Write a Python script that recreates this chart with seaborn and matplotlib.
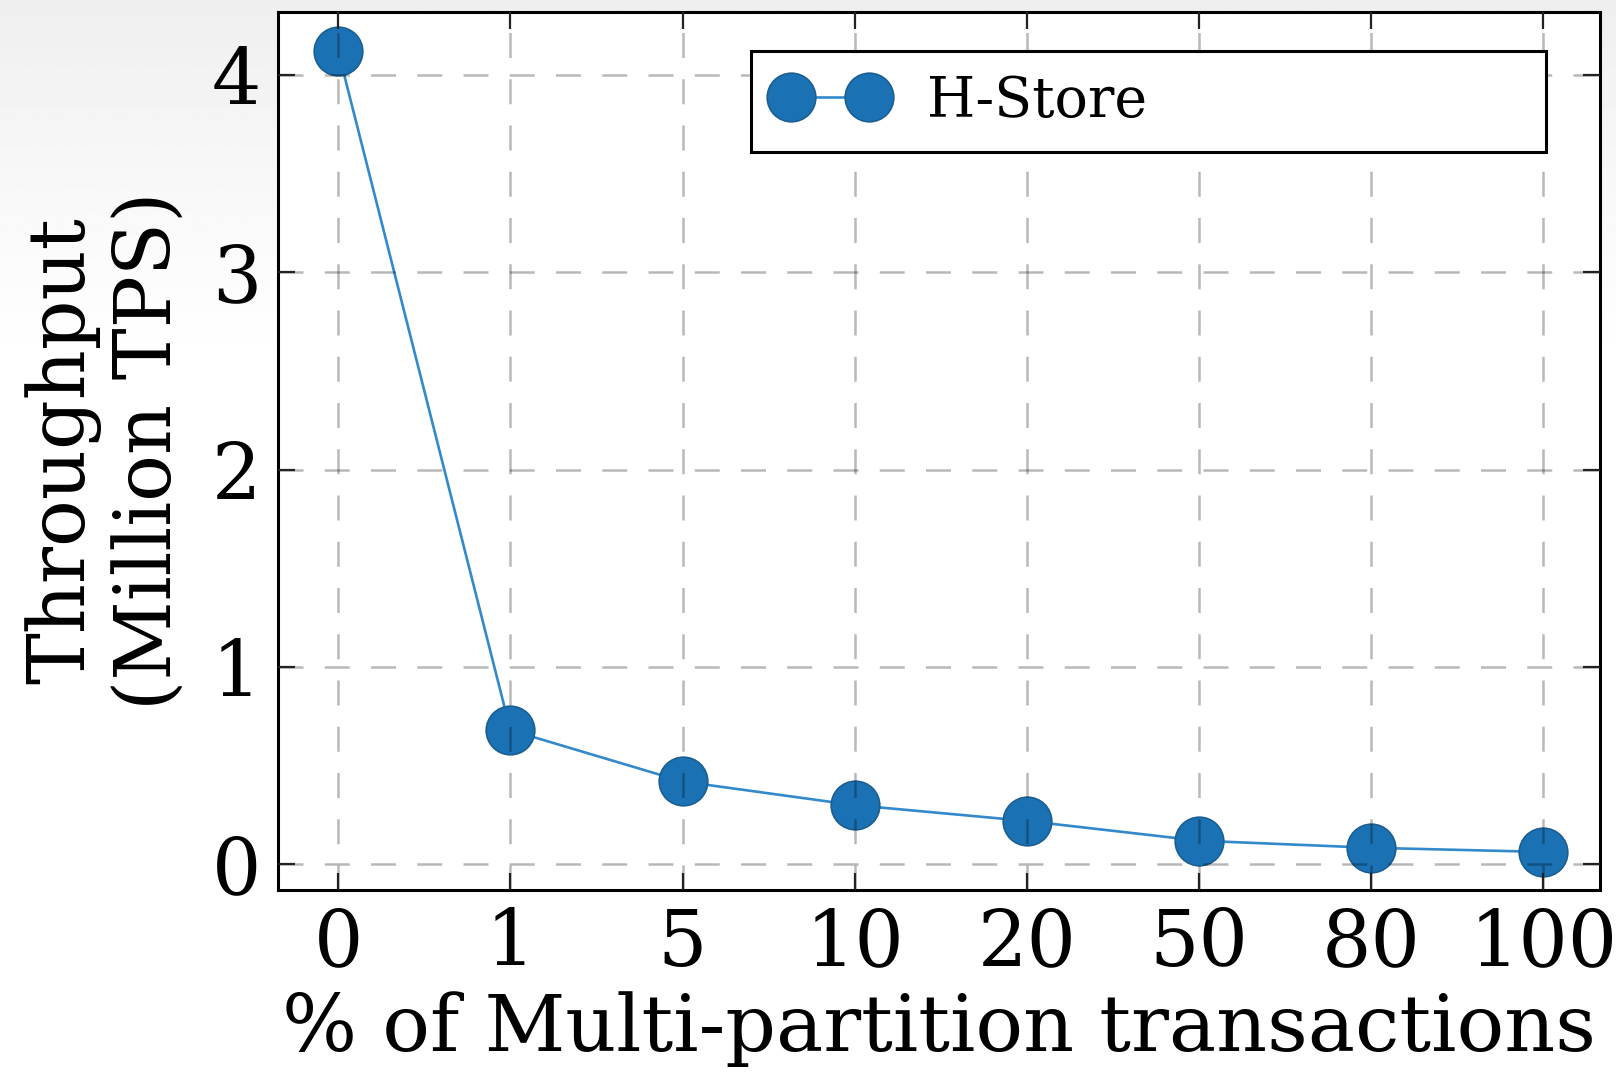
import numpy as np
import matplotlib
matplotlib.use("Agg")
import matplotlib.pyplot as plt
import seaborn as sns

# Share of multi-partition transactions (%) and measured throughput
mp_percent = ["0", "1", "5", "10", "20", "50", "80", "100"]
throughput_mtps = [4.12, 0.68, 0.42, 0.30, 0.22, 0.12, 0.084, 0.063]
series_name = "H-Store"
y_ticks = [0, 1, 2, 3, 4]

sns.set_theme(style="ticks")
plt.rcParams["font.family"] = ["DejaVu Serif"]
plt.rcParams["mathtext.fontset"] = "dejavuserif"
plt.rcParams["text.color"] = "black"
plt.rcParams["axes.labelcolor"] = "black"
plt.rcParams["xtick.color"] = "black"
plt.rcParams["ytick.color"] = "black"

marker_blue = "#1a72b4"
line_blue = "#3289cb"

fig = plt.figure(figsize=(16.16, 10.74), dpi=100)
fig.patch.set_facecolor("white")

# soft grey wash behind the top of the figure
bg = fig.add_axes([0, 0, 1, 1], zorder=-10)
rows = np.linspace(0, 1, 400)
shade = np.clip(1 - rows / 0.36, 0, 1)
grad = 1.0 - 0.065 * shade[:, None] ** 1.3
bg.imshow(np.repeat(grad, 2, axis=1), cmap="gray", vmin=0, vmax=1,
          aspect="auto", extent=[0, 1, 0, 1], origin="upper")
bg.set_axis_off()

ax = fig.add_axes([278 / 1616, 1 - 890 / 1074, 1322 / 1616, 878 / 1074])
ax.set_facecolor("white")

sns.pointplot(x=mp_percent, y=throughput_mtps, order=mp_percent,
              color=marker_blue, markers="o", linestyles="-", ax=ax,
              markersize=35, linewidth=1.9, markeredgewidth=1.2,
              markeredgecolor="#1b5f92")
line = ax.lines[0]
line.set_label(series_name)
line.set_color(line_blue)
line.set_markerfacecolor(marker_blue)
line.set_zorder(2)
line.set_clip_on(False)

ax.set_xlim(-0.35, 7.33)
ax.set_ylim(-0.13, 4.32)
ax.set_yticks(y_ticks)

# dashed grid sits over the markers, semi-transparent
ax.grid(True, linestyle=(0, (10, 8.5)), color="black", alpha=0.28,
        linewidth=1.8)
ax.set_axisbelow(False)

for side in ["top", "right", "bottom", "left"]:
    ax.spines[side].set_visible(True)
    ax.spines[side].set_color("black")
    ax.spines[side].set_linewidth(2.2)

ax.tick_params(axis="both", which="major", direction="in", length=12,
               width=1.6, color="#222222", top=True, right=True,
               labelsize=56, pad=12)

ax.set_xlabel("% of Multi-partition transactions", fontsize=57, labelpad=6)
ax.set_ylabel("Throughput\n(Million TPS)", fontsize=56, labelpad=17,
              linespacing=1.18)

leg = ax.legend(handles=[line], loc="upper left",
                bbox_to_anchor=(0.358, 0.856, 0.601, 0.1), mode="expand",
                borderaxespad=0.0, numpoints=2, handlelength=2.0,
                handletextpad=0.75, fontsize=40, frameon=True,
                fancybox=False, borderpad=0.42)
leg.get_frame().set_edgecolor("black")
leg.get_frame().set_linewidth(2.2)
leg.get_frame().set_facecolor("white")
leg.get_frame().set_alpha(1.0)

fig.savefig("out.png", dpi=100)
